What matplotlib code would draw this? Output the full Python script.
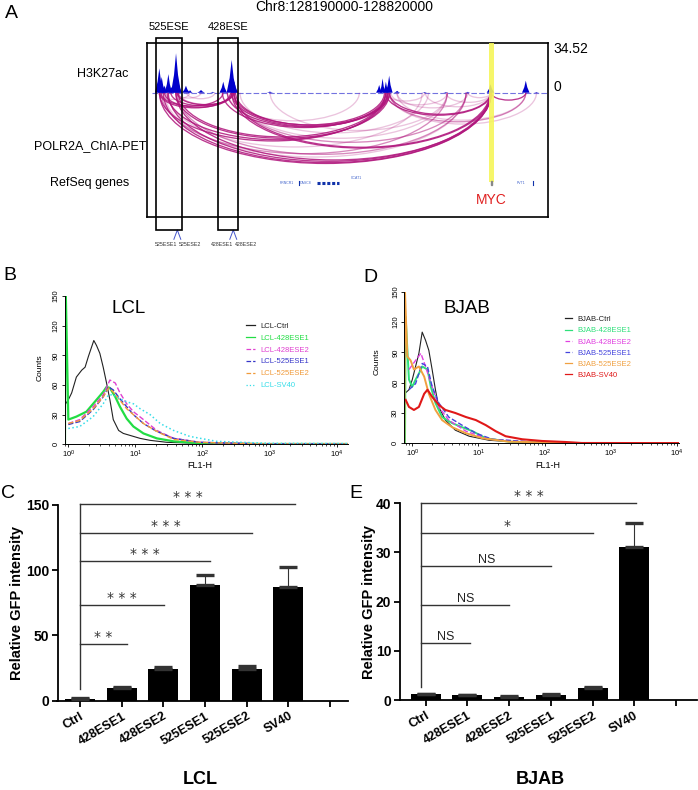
import numpy as np
import matplotlib.pyplot as plt
from matplotlib.patches import Arc, Rectangle

plt.rcParams['font.family'] = ['Liberation Sans', 'DejaVu Sans']

# ---------------- data ----------------
# panel A: genome browser view (kb from region start)
region = 'Chr8:128190000-128820000'
sig_max = 34.52
peak_kb = [11.6, 15.4, 20, 26, 31, 38.2, 41.8, 54, 60.5, 78, 96.6, 113.4, 126.8, 131, 187.7,
           361.6, 367, 372.3, 377.5, 390.2, 434, 467.7, 502.7, 538.8, 595, 612]
peak_h = [17, 11, 5, 13, 4, 27.6, 8, 4.9, 1.8, 1.9, 0.6, 7.7, 22.9, 8, 0.8,
          5.4, 10, 7.7, 11.9, 1.3, 0.5, 0.5, 0.6, 5.9, 8.4, 0.5]
peak_w = [7, 6, 5, 6, 5, 8, 6, 6, 4, 6, 4, 6, 8, 6, 5,
          5, 4.5, 4.5, 5.5, 5, 4, 4, 4, 6, 6, 4]
arc_from = [12, 18, 26, 38, 12, 24, 38, 42, 112, 120, 127, 130, 133, 127, 131,
            12, 20, 30, 40, 14, 378, 372, 540,
            15, 40, 378, 130, 42,
            10, 38, 55, 140, 188, 380, 390, 435, 468, 503, 372, 25, 130, 378, 390, 20, 120]
arc_to = [540, 540, 538, 540, 372, 375, 378, 372, 372, 375, 378, 370, 376, 540, 538,
          125, 128, 127, 130, 113, 539, 540, 595,
          470, 500, 595, 500, 130,
          60, 78, 100, 440, 470, 470, 503, 540, 540, 540, 434, 430, 470, 612, 595, 500, 330]
arc_alpha = [0.85] * 23 + [0.5] * 5 + [0.25] * 17
ese_names = ['525ESE', '428ESE']
ese_start = [5.9, 104.5]
ese_end = [47.7, 137.3]
ese_split = [40.3, 129.3]
ese_parts = [['525ESE1', '525ESE2'], ['428ESE1', '428ESE2']]
gene_names = ['PRNCR1', 'CASC8', 'CCAT1', 'PVT1']
gene_kb = [214, 245, 326, 588]
myc_kb = 540.4

# panel B: LCL flow histograms (log10 FL1-H, counts)
lcl_names = ['LCL-Ctrl', 'LCL-428ESE1', 'LCL-428ESE2', 'LCL-525ESE1', 'LCL-525ESE2', 'LCL-SV40']
lcl_ctrl_x = [-0.05, 0, 0.05, 0.12, 0.2, 0.25, 0.3, 0.35, 0.38, 0.42, 0.47, 0.52, 0.57, 0.62,
              0.67, 0.75, 0.82, 0.92, 1.07, 1.22, 1.47, 1.96, 3.0, 4.17]
lcl_ctrl_y = [40, 45, 52, 68, 75, 78, 89, 99, 105, 100, 92, 78, 62, 45, 25, 14, 11, 9, 6, 4, 2, 1, 0.5, 0.3]
lcl_e428_1_x = [-0.05, -0.045, -0.04, 0, 0.12, 0.27, 0.42, 0.52, 0.57, 0.62, 0.7, 0.77, 0.87,
                0.97, 1.12, 1.32, 1.57, 1.96, 2.96, 4.17]
lcl_e428_1_y = [0, 160, 160, 25, 28, 33, 45, 53, 58, 57, 48, 38, 26, 18, 11, 6, 3, 1, 0.3, 0.3]
lcl_e428_2_x = [0, 0.17, 0.37, 0.52, 0.62, 0.70, 0.77, 0.87, 0.97, 1.12, 1.32, 1.57, 1.96, 2.96, 4.17]
lcl_e428_2_y = [21, 25, 38, 50, 65, 62, 52, 41, 33, 25, 14, 6, 2, 0.3, 0.3]
lcl_e525_1_x = [0, 0.17, 0.37, 0.52, 0.60, 0.67, 0.77, 0.87, 0.97, 1.12, 1.32, 1.57, 1.96, 2.96, 4.17]
lcl_e525_1_y = [20, 23, 35, 48, 58, 55, 46, 38, 30, 21, 13, 6, 2, 0.3, 0.3]
lcl_e525_2_x = [0, 0.17, 0.37, 0.52, 0.60, 0.67, 0.87, 1.12, 1.32, 1.57, 1.96, 2.96, 4.17]
lcl_e525_2_y = [21, 24, 36, 48, 57, 53, 36, 21, 13, 5, 2, 0.3, 0.3]
lcl_sv40_x = [0, 0.17, 0.37, 0.52, 0.60, 0.67, 0.77, 0.87, 0.97, 1.07, 1.22, 1.37, 1.57, 1.81,
              2.21, 2.96, 4.17]
lcl_sv40_y = [16, 18, 28, 41, 50, 50, 46, 43, 41, 36, 30, 21, 14, 8, 3, 1, 0.7]

# panel D: BJAB flow histograms
bjab_names = ['BJAB-Ctrl', 'BJAB-428ESE1', 'BJAB-428ESE2', 'BJAB-525ESE1', 'BJAB-525ESE2', 'BJAB-SV40']
bjab_ctrl_x = [-0.1, -0.05, 0, 0.05, 0.1, 0.15, 0.2, 0.25, 0.3, 0.35, 0.4, 0.5, 0.65, 0.86,
               1.16, 1.56, 2.5, 4.03]
bjab_ctrl_y = [50, 53, 63, 76, 89, 110, 102, 92, 73, 53, 36, 23, 13, 7, 3, 1.3, 0.3, 0.2]
bjab_e428_1_x = [-0.11, -0.1, -0.05, 0, 0.05, 0.1, 0.15, 0.23, 0.28, 0.35, 0.45, 0.6, 0.75,
                 0.91, 1.11, 1.46, 2.5, 4.03]
bjab_e428_1_y = [0, 125, 63, 56, 63, 69, 76, 73, 56, 40, 26, 20, 16, 12, 5, 1.6, 0.3, 0.2]
bjab_e428_2_x = [-0.05, 0.05, 0.13, 0.2, 0.3, 0.4, 0.55, 0.81, 1.16, 2, 4.03]
bjab_e428_2_y = [73, 82, 89, 76, 56, 36, 23, 12, 4, 0.5, 0.2]
bjab_e525_1_x = [-0.05, 0.05, 0.15, 0.23, 0.3, 0.4, 0.55, 0.75, 0.96, 1.21, 2, 4.03]
bjab_e525_1_y = [53, 59, 79, 76, 56, 40, 26, 18, 10, 4, 0.5, 0.2]
bjab_e525_2_x = [-0.12, -0.11, -0.075, -0.025, 0.025, 0.1, 0.18, 0.25, 0.35, 0.45, 0.6, 0.81,
                 1.06, 1.46, 2.5, 4.03]
bjab_e525_2_y = [0, 150, 86, 82, 73, 76, 66, 49, 33, 23, 16, 10, 5, 1.6, 0.3, 0.2]
bjab_sv40_x = [-0.1, -0.05, 0.025, 0.1, 0.18, 0.23, 0.3, 0.4, 0.5, 0.65, 0.81, 0.96, 1.11, 1.26,
               1.41, 1.66, 1.96, 2.31, 2.56, 4.03]
bjab_sv40_y = [43, 36, 33, 36, 49, 53, 46, 38, 33, 30, 26, 23, 18, 12, 7, 4, 2.3, 1.3, 0.3, 0.2]

# panels C and E: relative GFP intensity
cats = ['Ctrl', '428ESE1', '428ESE2', '525ESE1', '525ESE2', 'SV40']
lcl_mean = [1.5, 9.5, 24.5, 88.4, 24.3, 87.1]
lcl_err = [0.3, 1.2, 1.0, 7.8, 2.0, 15.6]
lcl_sig_end = [1.12, 2.02, 3.12, 4.12, 5.16]
lcl_sig_y = [43.5, 73.4, 107.3, 128.8, 150.8]
lcl_sig_lab = ['**', '***', '***', '***', '***']
bjab_mean = [1.16, 0.95, 0.61, 1.1, 2.5, 31.2]
bjab_err = [0.1, 0.1, 0.14, 0.1, 0.2, 4.7]
bjab_sig_end = [1.06, 2.0, 3.01, 4.01, 5.04]
bjab_sig_y = [11.5, 19.3, 27.3, 34.0, 40.0]
bjab_sig_lab = ['NS', 'NS', 'NS', '*', '***']

# ---------------- figure ----------------
W, H = 698, 790
fig = plt.figure(figsize=(W / 100, H / 100), dpi=100)


def rect(x0, y0, x1, y1):
    return [x0 / W, 1 - y1 / H, (x1 - x0) / W, (y1 - y0) / H]


def ftext(x, y, s, **kw):
    kw.setdefault('ha', 'center')
    kw.setdefault('va', 'center')
    fig.text(x / W, 1 - y / H, s, **kw)


# ---- A ----
axA = fig.add_axes(rect(147, 43.3, 548.4, 217.3))
axA.set_xlim(-8, 631)
top, bottom = 49.4, -124.6
axA.set_ylim(bottom, top)
axA.set_xticks([])
axA.set_yticks([])
for s in axA.spines.values():
    s.set_linewidth(1.2)
sc = top / sig_max
axA.plot([0, 630], [0, 0], color='#7373e0', lw=0.8, ls=(0, (5, 2)), zorder=2)
for c, h, w in zip(peak_kb, peak_h, peak_w):
    axA.fill([c - w, c - w * 0.4, c, c + w * 0.4, c + w],
             [0, h * sc * 0.45, h * sc, h * sc * 0.45, 0],
             color='#0000cc', lw=0, zorder=3)
k_depth = 0.134
for a, b, al in zip(arc_from, arc_to, arc_alpha):
    span = b - a
    axA.add_patch(Arc(((a + b) / 2, 0), span, 2 * k_depth * span, theta1=180, theta2=360,
                      color='#b0157c', alpha=al, lw=0.95, zorder=2))
axA.add_patch(Rectangle((myc_kb - 4, -89.3), 8, top + 89.3, color='#f5f55a', alpha=0.9,
                        lw=0, zorder=4))
for name, s0, s1, sp, parts in zip(ese_names, ese_start, ese_end, ese_split, ese_parts):
    axA.add_patch(Rectangle((s0, -137.3), s1 - s0, 55 + 137.3, fill=False, lw=1.2,
                            clip_on=False, zorder=5))
    axA.text((s0 + s1) / 2, 65.7, name, ha='center', va='center', fontsize=8)
    axA.plot([sp - 5.5, sp, sp + 5.5], [-146.6, -137.3, -146.6], color='#4455cc', lw=0.7,
             clip_on=False)
    axA.text(sp - 0.5, -151.5, parts[0], ha='right', va='center', fontsize=3.8, color='#333333')
    axA.text(sp + 3, -151.5, parts[1], ha='left', va='center', fontsize=3.8, color='#333333')
axA.text(639.5, 43.7, '34.52', ha='left', va='center', fontsize=10)
axA.text(639.5, 5.7, '0', ha='left', va='center', fontsize=10)
for g, x in zip(gene_names, gene_kb):
    axA.text(x, -90.3 if g != 'CCAT1' else -85.3, g, ha='center', va='center', fontsize=2.5,
             color='#4466cc')
axA.plot([262, 297], [-90.3, -90.3], color='#1133aa', lw=2.2, ls=(0, (1, 0.6)))
axA.plot([234, 234], [-88, -92.5], color='#1133aa', lw=0.8)
axA.plot([606, 606], [-88, -92.5], color='#1133aa', lw=0.8)
axA.add_patch(Rectangle((myc_kb - 1.5, -92), 3, 3.5, color='#888888', zorder=5))
axA.text(myc_kb, -107.3, 'MYC', ha='center', va='center', fontsize=10, color='#e02020')

ftext(344, 7, region, fontsize=10)
ftext(11, 14, 'A', fontsize=14)
ftext(103, 74, 'H3K27ac', fontsize=9)
ftext(146, 146, 'POLR2A_ChIA-PET', ha='right', fontsize=9)
ftext(90, 183, 'RefSeq genes', fontsize=9)


# ---- B and D ----
def flow_panel(box, xlim, curves, names, colors, styles, widths, title, title_xy,
               leg_xy, leg_space, hlen):
    ax = fig.add_axes(rect(*box))
    for (xs, ys), c, ls, lw in zip(curves, colors, styles, widths):
        ax.plot(10 ** np.array(xs), ys, color=c, ls=ls, lw=lw)
    ax.set_xscale('log')
    ax.set_xlim(10 ** xlim[0], 10 ** xlim[1])
    ax.set_ylim(0, 150)
    ax.set_xticks([1, 10, 100, 1000, 10000])
    ax.set_yticks([0, 30, 60, 90, 120, 150])
    ax.tick_params(labelsize=5.5, length=2, width=0.6, pad=1.5)
    ax.tick_params(axis='x', which='minor', length=1.2, width=0.5)
    for lab in ax.get_yticklabels():
        lab.set_rotation(90)
        lab.set_va('center')
    for s in ['top', 'right']:
        ax.spines[s].set_visible(False)
    for s in ['left', 'bottom']:
        ax.spines[s].set_linewidth(0.7)
    ax.text(title_xy[0], title_xy[1], title, transform=fig.transFigure, ha='center',
            va='center', fontsize=13.5)
    leg = ax.legend(names, loc='upper left', bbox_to_anchor=leg_xy,
                    bbox_transform=fig.transFigure, frameon=False, fontsize=5.5,
                    borderpad=0, labelspacing=leg_space, handlelength=hlen,
                    handletextpad=0.6, labelcolor='linecolor')
    for h in leg.get_lines():
        h.set_linewidth(0.9)
    return ax


flow_colors_l = ['#222222', '#22dd44', '#e040d0', '#3535c8', '#f09a3a', '#35dde8']
flow_colors_b = ['#222222', '#2ee07a', '#e040e0', '#4444dd', '#f0a040', '#e01818']
styles = ['-', '-', '--', '--', '--', ':']
flow_panel((64.5, 296, 348, 444.3), (-0.057, 4.17),
           [(lcl_ctrl_x, lcl_ctrl_y), (lcl_e428_1_x, lcl_e428_1_y), (lcl_e428_2_x, lcl_e428_2_y),
            (lcl_e525_1_x, lcl_e525_1_y), (lcl_e525_2_x, lcl_e525_2_y), (lcl_sv40_x, lcl_sv40_y)],
           lcl_names, flow_colors_l, styles, [0.8, 1.6, 1.0, 1.0, 1.0, 1.1], 'LCL',
           (129 / W, 1 - 308 / H), (241.7 / W, 1 - 318.5 / H), 0.6, 1.3)
flow_panel((404, 291.7, 679, 443.3), (-0.125, 4.03),
           [(bjab_ctrl_x, bjab_ctrl_y), (bjab_e428_1_x, bjab_e428_1_y),
            (bjab_e428_2_x, bjab_e428_2_y), (bjab_e525_1_x, bjab_e525_1_y),
            (bjab_e525_2_x, bjab_e525_2_y), (bjab_sv40_x, bjab_sv40_y)],
           bjab_names, flow_colors_b, ['-', '-', '--', '--', '-', '-'],
           [0.8, 1.4, 1.0, 1.0, 1.4, 1.5], 'BJAB',
           (467 / W, 1 - 308 / H), (561 / W, 1 - 312 / H), 0.5, 1.0)
ftext(10, 276, 'B', fontsize=14)
ftext(370, 277, 'D', fontsize=14)
ftext(40, 368, 'Counts', rotation=90, fontsize=6)
ftext(377, 362, 'Counts', rotation=90, fontsize=6)
ftext(200, 465, 'FL1-H', fontsize=6.5)
ftext(548, 465, 'FL1-H', fontsize=6.5)


# ---- C and E ----
def bar_panel(box, xlim, ymax, yticks, means, errs, x0, vbot, ends, ys, labs, xlabel, xlab_xy,
              ylab_x):
    ax = fig.add_axes(rect(*box))
    pos = np.arange(len(means))
    ax.bar(pos, means, width=0.72, color='black', zorder=2)
    ax.errorbar(pos, means, yerr=[np.zeros(len(errs)), errs], fmt='none', ecolor='#333333',
                elinewidth=0.8, capsize=6.5, capthick=2.4, zorder=3)
    ax.set_xlim(*xlim)
    ax.set_ylim(0, ymax)
    ax.set_yticks(yticks)
    ax.set_xticks(range(len(means) + 1))
    ax.set_xticklabels(cats + [''], rotation=30, ha='right', va='top', rotation_mode='anchor',
                       fontweight='bold', fontsize=9)
    ax.tick_params(length=4, width=1.3, labelsize=10, pad=2)
    ax.tick_params(axis='x', labelsize=9, pad=3)
    for lab in ax.get_yticklabels():
        lab.set_fontweight('bold')
    for s in ['top', 'right']:
        ax.spines[s].set_visible(False)
    for s in ['left', 'bottom']:
        ax.spines[s].set_linewidth(1.3)
    ax.plot([x0, x0], [vbot, ys[-1]], color='#333333', lw=1, clip_on=False)
    for e, y, lab in zip(ends, ys, labs):
        ax.plot([x0, e], [y, y], color='#333333', lw=1, clip_on=False)
        if lab == 'NS':
            ax.text((x0 + e) / 2, y, lab, ha='center', va='bottom', fontsize=9,
                    color='#222222')
        else:
            ax.text((x0 + e) / 2, y, ' '.join(lab), ha='center', va='bottom', fontsize=10,
                    family='DejaVu Sans', color='#333333')
    ftext(xlab_xy[0], xlab_xy[1], xlabel, fontsize=13, fontweight='bold')
    ftext(ylab_x, (box[1] + box[3]) / 2, 'Relative GFP intensity', rotation=90,
          fontsize=10.5, fontweight='bold')
    return ax


bar_panel((57.5, 505, 348, 700.5), (-0.54, 6.43), 150, [0, 50, 100, 150], lcl_mean, lcl_err,
          0, 9, lcl_sig_end, lcl_sig_y, lcl_sig_lab, 'LCL', (200, 779), 17.5)
bar_panel((399.7, 503.3, 697, 700), (-0.62, 6.5), 40, [0, 10, 20, 30, 40], bjab_mean,
          bjab_err, -0.1, 2.7, bjab_sig_end, bjab_sig_y, bjab_sig_lab, 'BJAB', (540, 779),
          368.5)
ftext(8, 493, 'C', fontsize=14)
ftext(356, 493, 'E', fontsize=14)

fig.savefig('out.png', dpi=100)
